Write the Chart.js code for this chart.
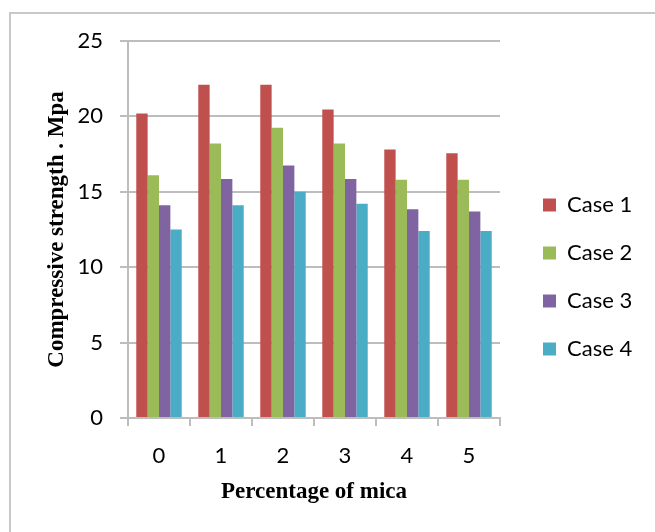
<!DOCTYPE html>
<html>
<head>
<meta charset="utf-8">
<title>Compressive strength vs percentage of mica</title>
<script src="https://cdn.jsdelivr.net/npm/chart.js@4/dist/chart.umd.min.js"></script>
<style>
  html, body { margin: 0; padding: 0; background: #ffffff; overflow: hidden; }
  #frame {
    position: absolute; left: 9px; top: 12px; width: 700px; height: 600px;
    border-top: 2px solid #c8c8c8; border-left: 2px solid #c8c8c8;
  }
  #chart { position: absolute; left: 0; top: 0; }
</style>
</head>
<body>
<div id="frame"></div>
<canvas id="chart" width="655" height="532"></canvas>
<script>
// Percentage of mica added to the mix
const categories = ['0', '1', '2', '3', '4', '5'];

// Compressive strength (MPa) for each case
const case1 = [20.2, 22.1, 22.1, 20.45, 17.8, 17.55];
const case2 = [16.1, 18.2, 19.25, 18.2, 15.8, 15.8];
const case3 = [14.1, 15.85, 16.75, 15.85, 13.85, 13.7];
const case4 = [12.5, 14.1, 15.0, 14.2, 12.4, 12.4];

const seriesNames = ['Case 1', 'Case 2', 'Case 3', 'Case 4'];
const yTicks = [0, 5, 10, 15, 20, 25];

const xTitle = 'Percentage of mica';
const yTitle = 'Compressive strength . Mpa';

const colors = ['#C0504D', '#9BBB59', '#8064A2', '#4BACC6'];
const gridColor = '#bdbdbd';

// Places the legend block beside the plot area
const legendPlacement = {
  id: 'legendPlacement',
  afterLayout(chart) {
    const lg = chart.legend;
    if (!lg) return;
    lg.left = 517; lg.right = 655;
    lg.top = 168; lg.bottom = 532;
    lg.width = lg.right - lg.left;
    lg.height = lg.bottom - lg.top;
  }
};

function build() {
  Chart.defaults.font.family = 'Lato';
  Chart.defaults.color = '#000000';

  const data = {
    labels: categories,
    datasets: [case1, case2, case3, case4].map((vals, i) => ({
      label: seriesNames[i],
      data: vals,
      backgroundColor: colors[i],
      borderWidth: 0,
      categoryPercentage: 0.733,
      barPercentage: 1.0
    }))
  };

  new Chart(document.getElementById('chart'), {
    type: 'bar',
    data,
    plugins: [legendPlacement],
    options: {
      responsive: false,
      animation: false,
      layout: { padding: { left: 0, top: 41, right: 95, bottom: 0 } },
      plugins: {
        tooltip: { enabled: false },
        legend: {
          position: 'right',
          align: 'start',
          maxWidth: 60,
          labels: {
            boxWidth: 13,
            boxHeight: 13,
            padding: 26,
            font: { family: 'Lato', size: 22 },
            color: '#000000'
          }
        }
      },
      scales: {
        x: {
          afterFit(scale) { scale.height = 114; },
          grid: {
            display: true,
            drawOnChartArea: false,
            drawTicks: true,
            tickLength: 8,
            color: gridColor,
            lineWidth: 2
          },
          border: { display: true, color: gridColor, width: 2 },
          ticks: {
            padding: 17,
            font: { family: 'Lato', size: 22 },
            color: '#000000'
          },
          title: {
            display: true,
            text: xTitle,
            color: '#000000',
            font: { family: 'Liberation Serif', size: 23, weight: 'bold' },
            padding: { top: 0, bottom: 26 }
          }
        },
        y: {
          min: 0,
          max: 25,
          afterFit(scale) { scale.width = 128; },
          afterBuildTicks(scale) { scale.ticks = yTicks.map(v => ({ value: v })); },
          grid: {
            color: gridColor,
            lineWidth: 2,
            drawTicks: true,
            tickLength: 8
          },
          border: { display: true, color: gridColor, width: 2 },
          ticks: {
            padding: 17,
            font: { family: 'Lato', size: 22 },
            color: '#000000'
          },
          title: {
            display: true,
            text: yTitle,
            color: '#000000',
            font: { family: 'Liberation Serif', size: 23, weight: 'bold' },
            padding: { top: 43, bottom: 0 }
          }
        }
      }
    }
  });
}

if (document.fonts && document.fonts.load) {
  Promise.all([
    document.fonts.load('22px Lato'),
    document.fonts.load('bold 23px "Liberation Serif"')
  ]).then(build, build);
} else {
  build();
}
</script>
</body>
</html>
